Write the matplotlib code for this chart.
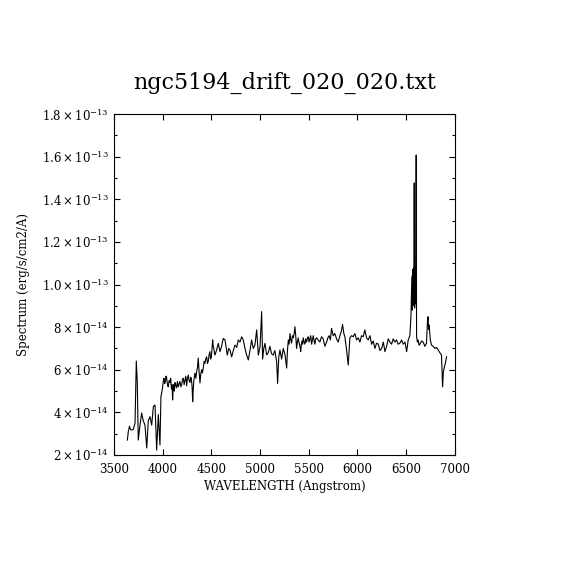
import matplotlib
matplotlib.use("Agg")
import matplotlib.pyplot as plt
from matplotlib.ticker import MultipleLocator
import numpy as np

title = "ngc5194_drift_020_020.txt"
xlabel = "WAVELENGTH (Angstrom)"
ylabel = "Spectrum (erg/s/cm2/A)"

wavelength = [
    3637, 3647, 3659, 3669, 3682, 3698, 3716, 3729, 3739, 3749,
    3767, 3784, 3801, 3818, 3836, 3852, 3870, 3887, 3904, 3921,
    3938, 3955, 3972, 3982, 3991,
    4000, 4007, 4013, 4020, 4027, 4034, 4041, 4049, 4057, 4066,
    4075, 4082, 4090, 4096, 4102, 4108, 4114, 4120, 4126, 4135,
    4143, 4151, 4160, 4169, 4178, 4186, 4195, 4203, 4212, 4220,
    4229, 4237, 4246, 4254, 4263, 4271, 4280, 4288, 4295, 4302,
    4308, 4314, 4320, 4326, 4331, 4340, 4348, 4357, 4365, 4374,
    4383, 4391, 4400, 4408, 4417, 4425, 4434, 4442, 4451, 4460,
    4468, 4476, 4485, 4492, 4500, 4507, 4513, 4519, 4525, 4531,
    4537, 4555, 4571, 4588, 4605, 4622, 4640, 4663, 4678, 4691,
    4708, 4725, 4742, 4760, 4776, 4794, 4811, 4827, 4845, 4862,
    4879, 4896, 4913, 4930, 4947, 4965, 4982, 5000, 5016, 5026,
    5038, 5050, 5067, 5084, 5101, 5118, 5135, 5152, 5170, 5180,
    5192, 5204, 5221, 5238, 5256, 5273, 5281,
    5290, 5298, 5307, 5315, 5324, 5332, 5341, 5350, 5358, 5366,
    5375, 5383, 5392, 5398, 5405, 5411, 5417, 5424, 5430, 5437,
    5443, 5452, 5460, 5469, 5478, 5486, 5495, 5503, 5512, 5520,
    5529, 5537, 5546, 5555, 5563, 5571, 5580,
    5597, 5614, 5631, 5648, 5665, 5683, 5696, 5709, 5722, 5734,
    5751, 5768, 5785, 5802, 5820, 5834, 5847, 5860, 5871, 5888,
    5905, 5922, 5939, 5956, 5973, 5991, 6008, 6025, 6042, 6059,
    6076, 6093, 6111, 6128, 6145, 6162, 6179, 6196, 6214, 6231,
    6248, 6265, 6282, 6299, 6316, 6333, 6350, 6367, 6384, 6401,
    6418, 6436, 6453, 6470, 6488, 6505, 6521, 6538, 6549, 6559,
    6563, 6567, 6571, 6575, 6579, 6583, 6587, 6591, 6595, 6599,
    6603, 6607, 6615, 6623, 6632, 6641, 6658, 6675, 6692, 6709,
    6719, 6725, 6730, 6736, 6748, 6760, 6777, 6795, 6812, 6829,
    6846, 6863, 6874, 6882, 6890, 6902, 6915,
]

flux_e14 = [
    2.70, 3.10, 3.35, 3.20, 3.17, 3.20, 3.50, 6.41, 5.44, 2.70,
    3.40, 3.97, 3.60, 3.40, 2.33, 3.60, 3.80, 3.40, 4.27, 4.35,
    2.23, 3.90, 2.47, 4.74, 4.95,
    5.20, 5.50, 5.60, 5.35, 5.45, 5.70, 5.60, 5.30, 5.20, 5.50,
    5.40, 5.60, 5.10, 5.30, 4.58, 5.20, 5.30, 5.00, 5.40, 5.25,
    5.15, 5.45, 5.20, 5.35, 5.45, 5.20, 5.30, 5.55, 5.60, 5.30,
    5.50, 5.70, 5.25, 5.60, 5.75, 5.50, 5.40, 5.65, 5.55, 5.20,
    4.50, 5.10, 5.50, 5.70, 5.84, 5.60, 5.90, 6.10, 6.55, 5.90,
    5.38, 5.80, 6.00, 5.85, 6.10, 6.40, 6.30, 6.50, 6.61, 6.30,
    6.40, 6.70, 6.85, 6.50, 6.60, 7.00, 7.40, 7.10, 7.00, 6.80,
    6.69, 6.95, 7.24, 6.85, 7.10, 7.47, 7.40, 6.69, 7.00, 6.93,
    6.60, 6.90, 7.16, 7.05, 7.40, 7.30, 7.55, 7.40, 7.00, 6.69,
    6.46, 6.90, 7.40, 7.00, 7.16, 7.87, 6.69, 7.10, 8.73, 6.50,
    7.00, 7.24, 6.70, 6.80, 7.10, 6.75, 6.69, 6.90, 6.38, 5.36,
    6.60, 6.93, 6.50, 7.00, 6.70, 6.08, 6.90,
    7.40, 7.20, 7.70, 7.40, 7.25, 7.60, 7.50, 7.70, 8.02, 7.60,
    7.00, 7.30, 7.50, 7.30, 7.20, 7.05, 6.85, 7.20, 7.35, 7.20,
    7.50, 7.30, 7.20, 7.45, 7.30, 7.50, 7.55, 7.30, 7.45, 7.60,
    7.20, 7.40, 7.60, 7.35, 7.20, 7.45, 7.50,
    7.40, 7.30, 7.55, 7.45, 7.10, 7.30, 7.50, 7.60, 7.40, 7.94,
    7.60, 7.70, 7.45, 7.30, 7.60, 7.80, 8.13, 7.70, 7.55, 6.93,
    6.22, 7.50, 7.60, 7.55, 7.70, 7.40, 7.50, 7.30, 7.60, 7.55,
    7.87, 7.50, 7.40, 7.60, 7.20, 7.35, 7.00, 7.25, 7.20, 6.90,
    7.00, 7.30, 6.85, 7.10, 7.45, 7.30, 7.20, 7.45, 7.30, 7.40,
    7.20, 7.25, 7.40, 7.20, 7.30, 6.85, 7.40, 7.60, 8.50, 10.40,
    8.80, 10.70, 9.00, 10.80, 9.20, 14.77, 8.90, 10.60, 9.10, 10.90,
    16.08, 7.55, 7.30, 7.40, 7.15, 7.20, 7.35, 7.30, 7.10, 7.25,
    8.30, 8.49, 7.90, 8.10, 7.40, 7.16, 7.10, 7.00, 7.05, 6.93,
    6.80, 6.69, 5.20, 5.90, 6.08, 6.30, 6.61,
]

x_ticks = [3500, 4000, 4500, 5000, 5500, 6000, 6500, 7000]
y_ticks = [2e-14, 4e-14, 6e-14, 8e-14, 1.0e-13, 1.2e-13, 1.4e-13, 1.6e-13, 1.8e-13]
y_tick_labels = [r"$2\times10^{-14}$", r"$4\times10^{-14}$", r"$6\times10^{-14}$",
                 r"$8\times10^{-14}$", r"$1.0\times10^{-13}$", r"$1.2\times10^{-13}$",
                 r"$1.4\times10^{-13}$", r"$1.6\times10^{-13}$", r"$1.8\times10^{-13}$"]

plt.rcParams["font.family"] = ["DejaVu Serif"]
plt.rcParams["mathtext.fontset"] = "dejavuserif"

fig = plt.figure(figsize=(5.7, 5.7), dpi=100)
ax = fig.add_axes([0.2, 0.2018, 0.598, 0.598])

n = min(len(wavelength), len(flux_e14))
flux = np.array(flux_e14[:n]) * 1e-14
ax.plot(wavelength[:n], flux, color="black", linewidth=0.8)

ax.set_xlim(3500, 7000)
ax.set_ylim(2e-14, 1.8e-13)
ax.set_xticks(x_ticks)
ax.set_xticklabels([str(v) for v in x_ticks], fontsize=8.5)
ax.set_yticks(y_ticks)
ax.set_yticklabels(y_tick_labels, fontsize=8.5)
ax.yaxis.set_minor_locator(MultipleLocator(1e-14))

ax.tick_params(which="both", direction="in", top=True, right=True, width=0.8)
ax.tick_params(which="major", length=4.3)
ax.tick_params(which="minor", length=2.0)
ax.tick_params(axis="x", pad=5.5)
ax.tick_params(axis="y", pad=4)
for s in ax.spines.values():
    s.set_linewidth(0.8)

ax.set_xlabel(xlabel, fontsize=8.5, labelpad=3)
ax.set_ylabel(ylabel, fontsize=8.5, labelpad=8)
fig.text(0.5, 0.855, title, ha="center", va="center", fontsize=16,
         family="DejaVu Serif")

fig.savefig("out.png", dpi=100)
